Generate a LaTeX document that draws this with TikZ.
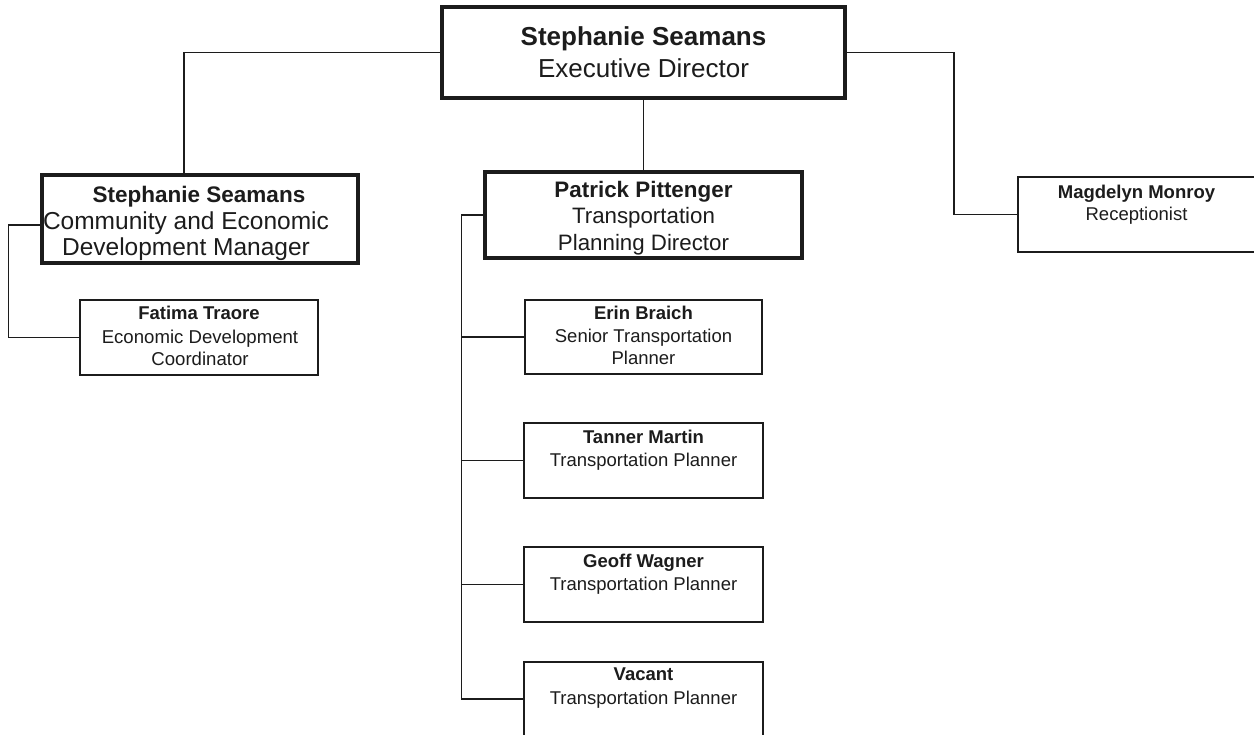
\documentclass[tikz,border=0pt]{standalone}
\usepackage{fontspec}
\setmainfont{Liberation Sans}
\usetikzlibrary{calc}
\definecolor{ink}{HTML}{1C1C1C}
\begin{document}
\begin{tikzpicture}[x=1pt,y=-1pt,
  thickbox/.style={draw=ink,line width=3.3pt,inner sep=0pt,fill=white},
  thinbox/.style={draw=ink,line width=1.9pt,inner sep=0pt,fill=white},
  conn/.style={draw=ink,line width=1.7pt},
  nm/.style={anchor=north,inner sep=0pt,text=ink},
  rl/.style={anchor=north,inner sep=0pt,text=ink,align=center}]
\clip (0,0) rectangle (1254,735);
\fill[white] (0,0) rectangle (1254,735);
% boxes
\node[thickbox,minimum width=403pt,minimum height=91pt] (ed) at (643.5,52.5) {};
\node[thickbox,minimum width=316pt,minimum height=88pt] (ced) at (200,219) {};
\node[thinbox,minimum width=238pt,minimum height=75pt] (fat) at (199,337.5) {};
\node[thickbox,minimum width=317pt,minimum height=86pt] (pp) at (643.5,215) {};
\node[thinbox,minimum width=237pt,minimum height=74pt] (erin) at (643.5,337) {};
\node[thinbox,minimum width=239pt,minimum height=75pt] (tan) at (643.5,460.5) {};
\node[thinbox,minimum width=239pt,minimum height=75pt] (geo) at (643.5,584.5) {};
\node[thinbox,minimum width=239pt,minimum height=74pt] (vac) at (643.5,699) {};
\node[thinbox,minimum width=244pt,minimum height=75pt] (mag) at (1140,214.5) {};
% connectors
\draw[conn] (ed.west) -| ([xshift=-16pt]ced.north);
\draw[conn] (ed.east) -| ($(mag.west)+(-63,0)$) -- (mag.west);
\draw[conn] (ed.south) -- (pp.north);
\draw[conn] ([yshift=-6pt]ced.west) -- ++(-32,0) |- (fat.west);
\draw[conn] (pp.west) -- ++(-22,0) coordinate (spine) |- (vac.west);
\foreach \b in {erin,tan,geo} \draw[conn] (spine |- \b.west) -- (\b.west);
% texts
\node[nm,font=\fontsize{26}{32}\selectfont\bfseries] (edn) at (643.5,26.4) {Stephanie Seamans};
\node[rl,font=\fontsize{26}{32}\selectfont] (edr) at (643.5,58) {Executive Director};
\node[nm,font=\fontsize{22.5}{25}\selectfont\bfseries] (cedn) at (199,185.6) {Stephanie Seamans};
\node[rl,font=\fontsize{24.5}{25.5}\selectfont] (cedr) at (186,211.8) {Community and Economic\\Development Manager};
\node[nm,font=\fontsize{18.5}{22}\selectfont\bfseries] (fatn) at (199,305.5) {Fatima Traore};
\node[rl,font=\fontsize{18.6}{21.8}\selectfont] (fatr) at (200,329.7) {Economic Development\\Coordinator};
\node[nm,font=\fontsize{22.4}{27}\selectfont\bfseries] (ppn) at (643.5,180.7) {Patrick Pittenger};
\node[rl,font=\fontsize{22.3}{27}\selectfont] (ppr) at (643.5,207) {Transportation\\Planning Director};
\node[nm,font=\fontsize{18.5}{22}\selectfont\bfseries] (erinn) at (643.5,306.3) {Erin Braich};
\node[rl,font=\fontsize{18.5}{22}\selectfont] (erinr) at (643.5,329.3) {Senior Transportation\\Planner};
\node[nm,font=\fontsize{18.5}{22}\selectfont\bfseries] (tann) at (643.5,429.5) {Tanner Martin};
\node[rl,font=\fontsize{18.5}{22}\selectfont] (tanr) at (643.5,452.8) {Transportation Planner};
\node[nm,font=\fontsize{18.5}{22}\selectfont\bfseries] (geon) at (643.5,554) {Geoff Wagner};
\node[rl,font=\fontsize{18.5}{22}\selectfont] (geor) at (643.5,577) {Transportation Planner};
\node[nm,font=\fontsize{18.5}{22}\selectfont\bfseries] (vacn) at (643.5,668) {Vacant};
\node[rl,font=\fontsize{18.5}{22}\selectfont] (vacr) at (643.5,691) {Transportation Planner};
\node[nm,font=\fontsize{18.5}{22}\selectfont\bfseries] (magn) at (1136.5,184.5) {Magdelyn Monroy};
\node[rl,font=\fontsize{18.5}{22}\selectfont] (magr) at (1136.5,207) {Receptionist};
\end{tikzpicture}
\end{document}
